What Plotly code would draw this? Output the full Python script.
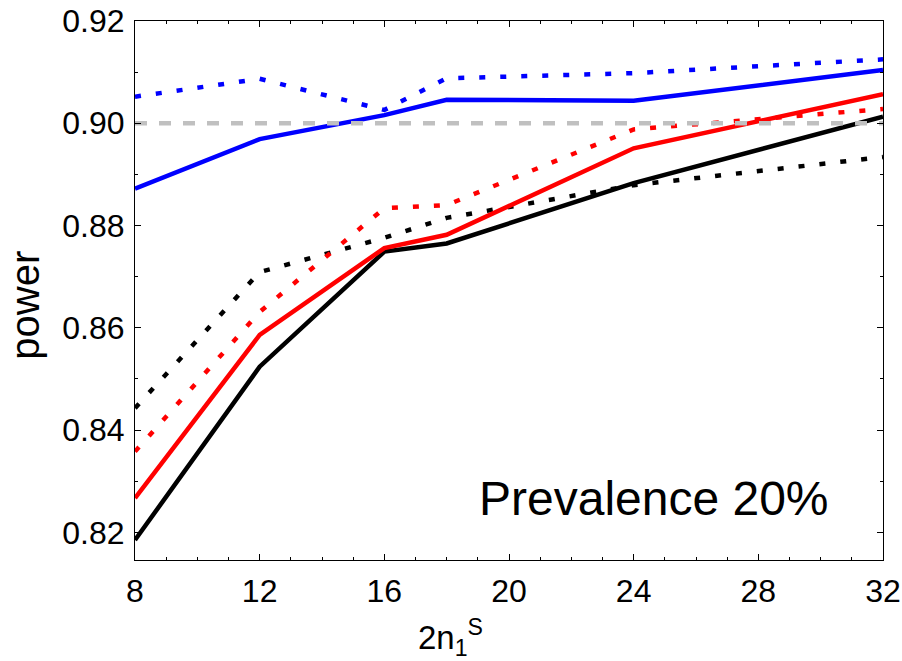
import plotly.graph_objects as go

x_vals = [8, 12, 16, 18, 24, 32]

blue_solid = [0.8872, 0.8969, 0.9016, 0.9046, 0.9044, 0.9104]
blue_dotted = [0.9052, 0.9087, 0.9026, 0.9088, 0.9098, 0.9125]
red_solid = [0.8267, 0.8586, 0.8756, 0.8782, 0.8951, 0.9057]
red_dotted = [0.8358, 0.8631, 0.8834, 0.8840, 0.8988, 0.9028]
black_solid = [0.8185, 0.8524, 0.8749, 0.8765, 0.8883, 0.9013]
black_dotted = [0.8443, 0.8709, 0.8776, 0.8815, 0.8879, 0.8934]
reference_level = [0.90, 0.90]
reference_x = [8, 32]

x_ticks = [8, 12, 16, 20, 24, 28, 32]
y_ticks = [0.82, 0.84, 0.86, 0.88, 0.90, 0.92]

x_title = "2n<sub>1</sub><sup>S</sup>"
y_title = "power"
panel_label = "Prevalence 20%"

FONT = "Liberation Sans, Arial, sans-serif"
DOT = "6px,15px"

fig = go.Figure()

series = [
    (blue_solid, "#0000FF", "solid"),
    (blue_dotted, "#0000FF", DOT),
    (black_dotted, "#000000", DOT),
    (red_dotted, "#FF0000", DOT),
    (black_solid, "#000000", "solid"),
    (red_solid, "#FF0000", "solid"),
]
for vals, col, dash in series:
    fig.add_trace(go.Scatter(x=x_vals, y=vals, mode="lines",
                             line=dict(color=col, width=4.5, dash=dash),
                             showlegend=False, hoverinfo="skip"))

fig.add_trace(go.Scatter(x=reference_x, y=reference_level, mode="lines",
                         line=dict(color="#C0C0C0", width=4.5, dash="12px,12px"),
                         showlegend=False, hoverinfo="skip"))

axis_common = dict(
    showgrid=False, zeroline=False, showline=True, linecolor="black",
    linewidth=1.2, mirror="allticks", ticks="inside", ticklen=6, tickwidth=1,
    tickcolor="black", tickfont=dict(family=FONT, size=32, color="black"),
    automargin=False,
)

fig.update_xaxes(range=[8, 32], tickvals=x_ticks, ticktext=[str(v) for v in x_ticks],
                 minor=dict(dtick=1, ticks="inside", ticklen=3, tickcolor="black", showgrid=False),
                 ticklabelstandoff=2,
                 **axis_common)
fig.update_yaxes(range=[0.8146, 0.92], tickvals=y_ticks, ticktext=[f"{v:.2f}" for v in y_ticks],
                 minor=dict(dtick=0.01, tick0=0.82, ticks="inside", ticklen=3, tickcolor="black", showgrid=False),
                 ticklabelstandoff=3,
                 **axis_common)

# axis titles (placed as in the reference, off-centre)
fig.add_annotation(x=0.376, y=-0.143, xref="paper", yref="paper", xanchor="left", yanchor="middle",
                   text=x_title, showarrow=False,
                   font=dict(family=FONT, size=33, color="black"))
fig.add_annotation(x=-0.147, y=0.472, xref="paper", yref="paper", xanchor="center", yanchor="middle",
                   text=y_title, showarrow=False, textangle=-90,
                   font=dict(family=FONT, size=40, color="black"))

fig.add_annotation(x=0.93, y=0.115, xref="paper", yref="paper", xanchor="right", yanchor="middle",
                   text=panel_label, showarrow=False,
                   font=dict(family=FONT, size=48, color="black"))

fig.update_layout(width=902, height=661, margin=dict(l=135, r=19, t=21, b=101),
                  paper_bgcolor="white", plot_bgcolor="white")

fig.write_html("out.html")
